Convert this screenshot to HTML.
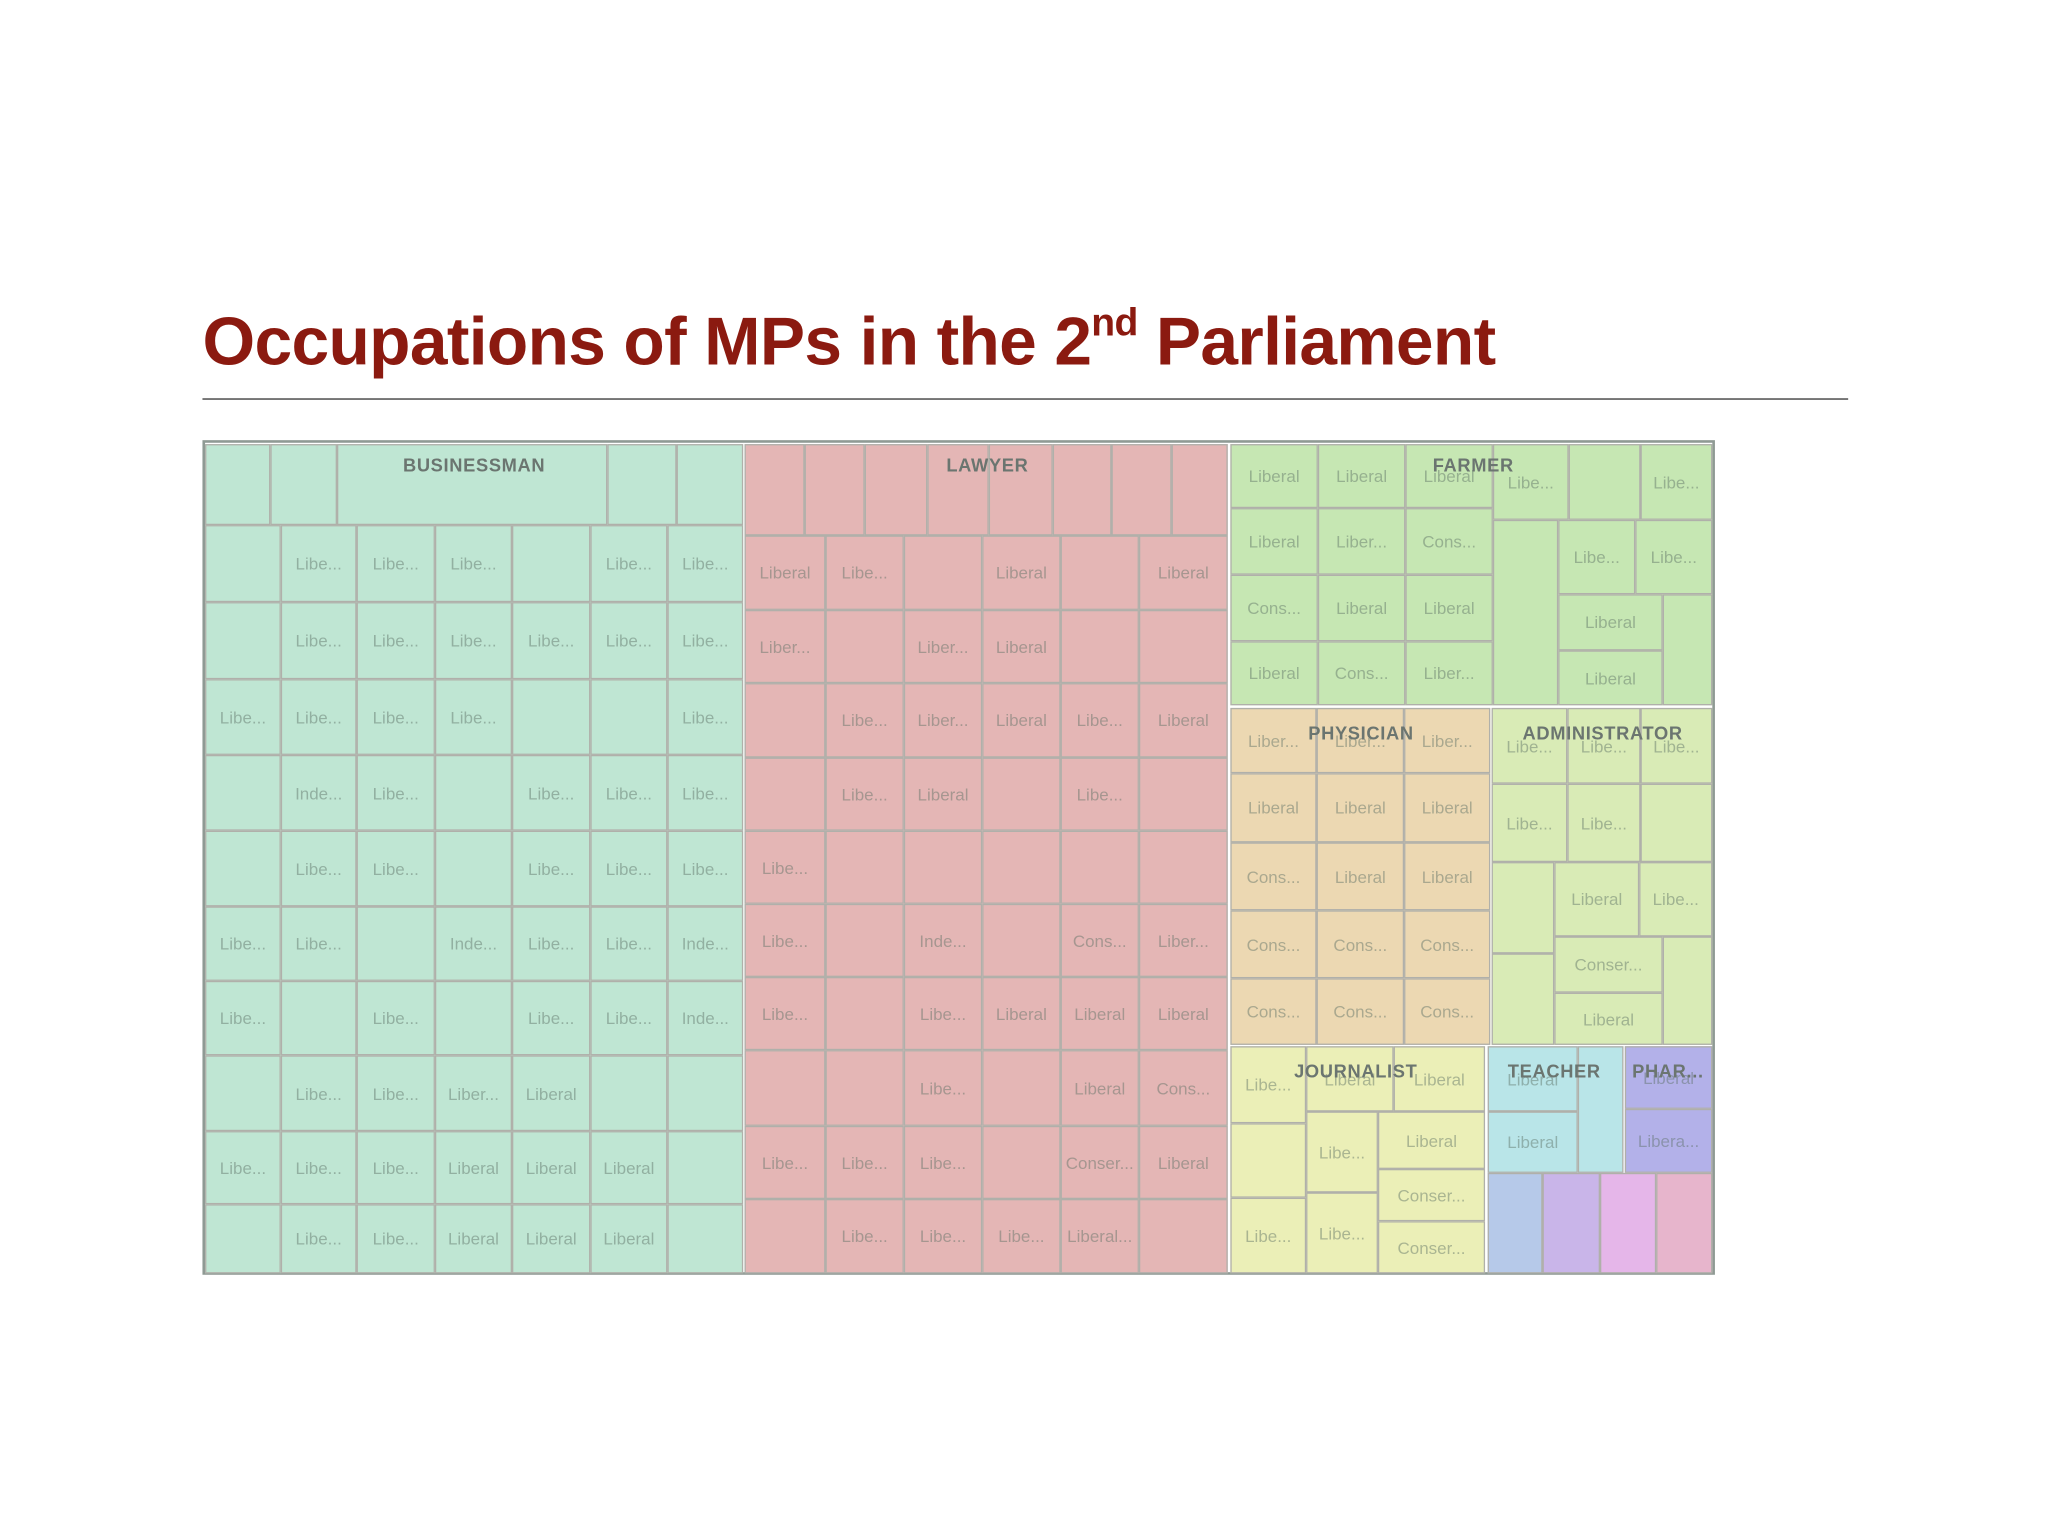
<!DOCTYPE html>
<html><head><meta charset="utf-8"><style>
html,body{margin:0;padding:0;background:#fff;width:2048px;height:1536px;overflow:hidden}
#stage{position:absolute;left:0;top:0;width:1568px;height:1176px;transform:scale(1.306122);transform-origin:0 0;font-family:"Liberation Sans",sans-serif}
#title{position:absolute;left:155px;top:232px;font-size:52px;font-weight:bold;color:#8b1a10;white-space:nowrap;transform-origin:0 0;letter-spacing:-0.5px}
#title sup{font-size:30px;vertical-align:22px;line-height:0}
#rule{position:absolute;left:155px;top:305px;width:1260px;height:1px;background:#333}
#map{position:absolute;left:155px;top:337px;width:1158px;height:639px;border:2px solid #8f9a94;box-sizing:border-box}
.cell{position:absolute;box-sizing:border-box;border:1.5px solid #b0b0aa;font-size:13px;color:rgba(90,110,100,0.45);display:flex;align-items:center;justify-content:center;overflow:hidden;white-space:nowrap}
.hdr{position:absolute;font-size:14px;font-weight:bold;color:#6b7570;transform:translateX(-50%);white-space:nowrap;letter-spacing:0.5px}
</style></head><body>
<div id="stage">
<div id="title">Occupations of MPs in the 2<sup>nd</sup> Parliament</div>
<div id="rule"></div>
<div id="map"></div>
</div>
<script>
// Group colors
const groupNames=["BUSINESSMAN","LAWYER","FARMER","PHYSICIAN","ADMINISTRATOR","JOURNALIST","TEACHER","PHAR..."];
const groupColors=["#bfe6d3","#e4b6b5","#c6e7b3","#ecd8b2","#d9ebb6","#ebefb7","#b9e5e8","#b3b1e9"];
const headerPos=[[363,357],[756,357],[1128,357],[1042,562],[1227,562],[1038,821],[1190,821],[1277,821]];

// Grid groups: [group, xs, ys, labels]
const L="Libe...",LI="Liberal",LB="Liber...",CO="Cons...",CN="Conser...",IN="Inde...";
const bizX=[157,215,273,333,392,452,511,569];
const bizY=[402,461,520,578,636,694,751,808,866,922,975];
const bizLabels=[
["",L,L,L,"",L,L],["",L,L,L,L,L,L],[L,L,L,L,"","",L],["",IN,L,"",L,L,L],["",L,L,"",L,L,L],
[L,L,"",IN,L,L,IN],[L,"",L,"",L,L,IN],["",L,L,LB,LI,"",""],[L,L,L,LI,LI,LI,""],["",L,L,LI,LI,LI,""]];
const lawX=[570,632,692,752,812,872,940];
const lawY=[410,467,523,580,636,692,748,804,862,918,975];
const lawLabels=[
[LI,L,"",LI,"",LI],[LB,"",LB,LI,"",""],["",L,LB,LI,L,LI],["",L,LI,"",L,""],[L,"","","","",""],
[L,"",IN,"",CO,LB],[L,"",L,LI,LI,LI],["","",L,"",LI,CO],[L,L,L,"",CN,LI],["",L,L,L,"Liberal...",""]];
const farmX=[942,1009,1076,1143];
const farmY=[340,389,440,491,540];
const farmLabels=[[LI,LI,LI],[LI,LB,CO],[CO,LI,LI],[LI,CO,LB]];
const phyX=[942,1008,1075,1141];
const phyY=[542,592,645,697,749,800];
const phyLabels=[[LB,LB,LB],[LI,LI,LI],[CO,LI,LI],[CO,CO,CO],[CO,CO,CO]];

// Explicit rects: [group,x0,y0,x1,y1,label,color?]
const rects=[
[0,157,340,207,402,""],[0,207,340,258,402,""],[0,258,340,465,402,""],[0,465,340,518,402,""],[0,518,340,569,402,""],
[1,570,340,616,410,""],[1,616,340,662,410,""],[1,662,340,710,410,""],[1,710,340,757,410,""],[1,757,340,806,410,""],[1,806,340,851,410,""],[1,851,340,897,410,""],[1,897,340,940,410,""],
[2,1143,340,1201,398,L],[2,1201,340,1256,398,""],[2,1256,340,1311,398,L],[2,1143,398,1193,540,""],[2,1193,398,1252,455,L],[2,1252,398,1311,455,L],[2,1193,455,1273,498,LI],[2,1193,498,1273,540,LI],[2,1273,455,1311,540,""],
[4,1142,542,1200,600,L],[4,1200,542,1256,600,L],[4,1256,542,1311,600,L],[4,1142,600,1200,660,L],[4,1200,600,1256,660,L],[4,1256,600,1311,660,""],
[4,1142,660,1190,730,""],[4,1142,730,1190,800,""],[4,1190,660,1255,717,LI],[4,1255,660,1311,717,L],[4,1190,717,1273,760,CN],[4,1190,760,1273,800,LI],[4,1273,717,1311,800,""],
[5,942,801,1000,860,L],[5,942,860,1000,917,""],[5,942,917,1000,975,L],[5,1000,801,1067,851,LI],[5,1067,801,1137,851,LI],[5,1000,851,1055,913,L],[5,1000,913,1055,975,L],[5,1055,851,1137,895,LI],[5,1055,895,1137,935,CN],[5,1055,935,1137,975,CN],
[6,1139,801,1208,851,LI],[6,1139,851,1208,898,LI],[6,1208,801,1243,898,""],
[7,1244,801,1311,849,LI],[7,1244,849,1311,898,"Libera..."],
[-1,1139,898,1181,975,"","#b6c9e9"],[-1,1181,898,1225,975,"","#c9b5e9"],[-1,1225,898,1268,975,"","#e5b6e9"],[-1,1268,898,1311,975,"","#e7b5cc"]
];

const map=document.getElementById('map');
const ox=155,oy=337;
function addCell(g,x0,y0,x1,y1,label,col){
  const d=document.createElement('div');
  d.className='cell';
  
  
  d.style.left=(x0-ox-2)+'px';d.style.top=(y0-oy-2)+'px';
  d.style.width=(x1-x0)+'px';d.style.height=(y1-y0)+'px';
  d.style.background=col||groupColors[g];
  d.textContent=label;
  map.appendChild(d);
}
function grid(g,xs,ys,labels){
  for(let r=0;r<ys.length-1;r++)for(let c=0;c<xs.length-1;c++)
    addCell(g,xs[c],ys[r],xs[c+1],ys[r+1],labels[r][c]);
}
grid(0,bizX,bizY,bizLabels);
grid(1,lawX,lawY,lawLabels);
grid(2,farmX,farmY,farmLabels);
grid(3,phyX,phyY,phyLabels);
rects.forEach(r=>addCell(r[0],r[1],r[2],r[3],r[4],r[5],r[6]));
groupNames.forEach((n,i)=>{
  const h=document.createElement('div');
  h.className='hdr';
  
  
  h.textContent=n;
  h.style.left=(headerPos[i][0]-ox-2)+'px';
  h.style.top=(headerPos[i][1]-oy-2-9)+'px';
  map.appendChild(h);
});
const t=document.getElementById('title');
const w=t.getBoundingClientRect().width/1.306122;
t.style.transform='scaleX('+(990/w)+')';
</script>
</body></html>
